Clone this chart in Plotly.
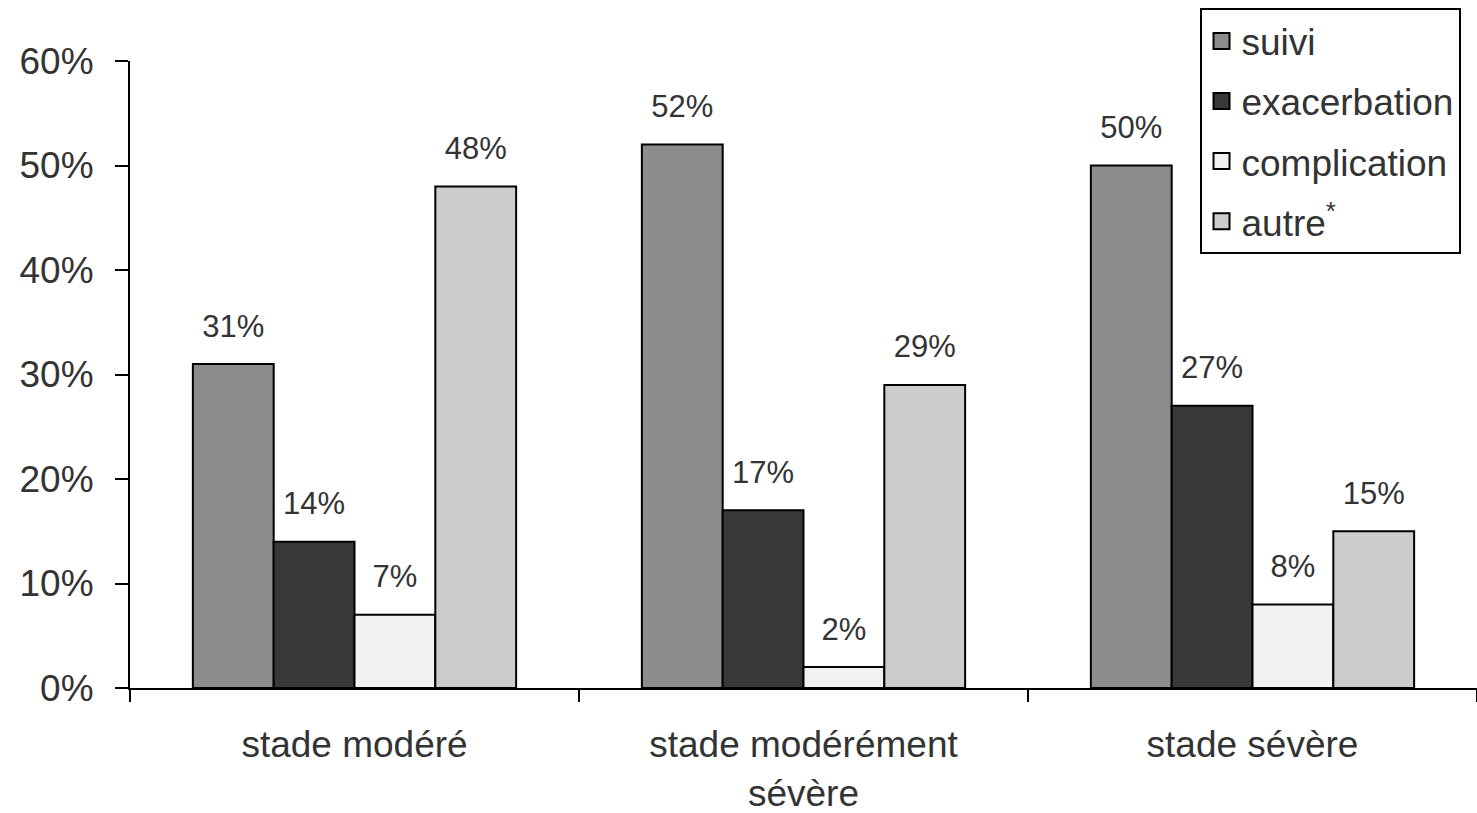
import plotly.graph_objects as go

categories = ["stade modéré", "stade modérément<br>sévère", "stade sévère"]
series_names = ["suivi", "exacerbation", "complication", "autre<sup>*</sup>"]
suivi = [31, 52, 50]
exacerbation = [14, 17, 27]
complication = [7, 2, 8]
autre = [48, 29, 15]
colors = ["#8c8c8c", "#383838", "#f2f2f2", "#cccccc"]
y_ticks = [0, 10, 20, 30, 40, 50, 60]
y_tick_labels = ["0%", "10%", "20%", "30%", "40%", "50%", "60%"]

font_family = "Liberation Sans, Arial, sans-serif"
text_color = "#333333"
fig = go.Figure()
all_series = [suivi, exacerbation, complication, autre]
for i, (name, vals) in enumerate(zip(series_names, all_series)):
    fig.add_trace(go.Bar(
        x=categories, y=vals, name=name, offsetgroup=str(i),
        marker=dict(color=colors[i], line=dict(color="#000000", width=2)),
        showlegend=False, hoverinfo="skip",
    ))
for i, (name, vals) in enumerate(zip(series_names, all_series)):
    # value labels, aligned with the bars through scattermode="group"
    fig.add_trace(go.Scatter(
        x=categories, y=vals, mode="markers+text", offsetgroup=str(i),
        text=[f"{v}%" for v in vals], textposition="top center",
        textfont=dict(size=31, color=text_color, family=font_family),
        marker=dict(size=30, opacity=0), showlegend=False, cliponaxis=False,
        hoverinfo="skip",
    ))
for i, name in enumerate(series_names):
    # legend entries
    fig.add_trace(go.Scatter(
        x=[None], y=[None], mode="markers", name=name, offsetgroup=str(i),
        marker=dict(symbol="square", size=16, color=colors[i],
                    line=dict(color="#000000", width=2)),
        legendgroup=f"g{i}", showlegend=True,
    ))

fig.update_layout(
    width=1477, height=813,
    margin=dict(l=130, r=0, t=61, b=125),
    paper_bgcolor="white", plot_bgcolor="white",
    barmode="group", bargap=0.28, bargroupgap=0,
    scattermode="group", scattergap=0.28,
    font=dict(family=font_family, color=text_color, size=38),
    showlegend=True,
    legend=dict(
        x=0.794, y=1.084, xanchor="left", yanchor="top",
        bordercolor="#000000", borderwidth=2, bgcolor="white",
        font=dict(size=37, color=text_color),
        traceorder="grouped", tracegroupgap=9, itemwidth=30,
    ),
)
fig.update_xaxes(
    showline=True, linecolor="#000000", linewidth=2,
    ticks="outside", tickson="boundaries", ticklen=12, tickwidth=2, tickcolor="#000000",
    tickfont=dict(size=37, color=text_color), showgrid=False,
    ticklabelstandoff=23, automargin=False,
)
fig.update_yaxes(
    range=[0, 60], tickvals=y_ticks, ticktext=y_tick_labels,
    showline=True, linecolor="#000000", linewidth=2,
    ticks="outside", ticklen=13, tickwidth=2, tickcolor="#000000",
    tickfont=dict(size=37, color=text_color), showgrid=False, zeroline=False,
    ticklabelstandoff=14, automargin=False,
)
fig.write_html("out.html")
